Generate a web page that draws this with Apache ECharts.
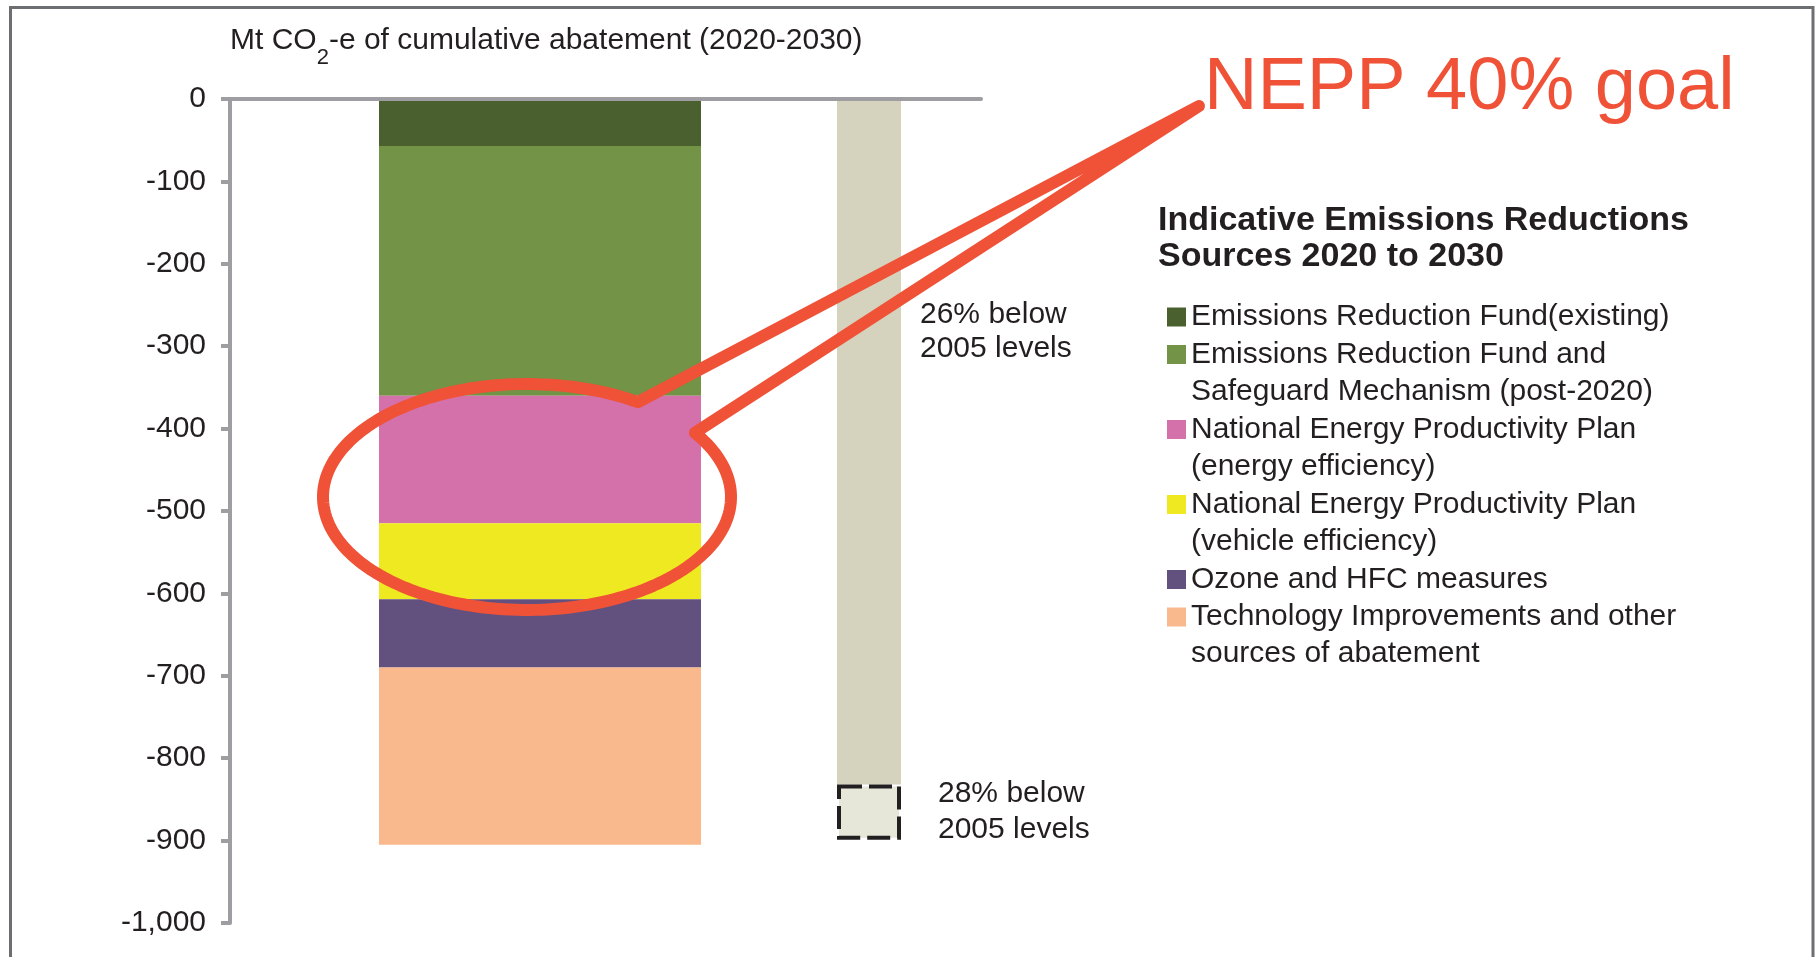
<!DOCTYPE html>
<html>
<head>
<meta charset="utf-8">
<script src="https://cdn.jsdelivr.net/npm/echarts@6/dist/echarts.min.js"></script>
<style>
html,body{margin:0;padding:0;background:#ffffff;}
#chart{width:1817px;height:957px;}
</style>
</head>
<body>
<div id="chart"></div>
<script>
// ---------------- data ----------------
const sourceNames = [
  'Emissions Reduction Fund(existing)',
  'Emissions Reduction Fund and\nSafeguard Mechanism (post-2020)',
  'National Energy Productivity Plan\n(energy efficiency)',
  'National Energy Productivity Plan\n(vehicle efficiency)',
  'Ozone and HFC measures',
  'Technology Improvements and other\nsources of abatement'
];
const sourceValues = [-57, -303, -155, -92, -83, -215];
const sourceCategory = ['Sources'];
const targetCategory = ['Target'];
const targetNames = ['26% below\n2005 levels', '28% below\n2005 levels'];
const targetValues = [-832, -67];
const yMin = -1000;
const yMax = 0;
const yStep = 100;
const axisTitle = '{m|Mt CO}{s|2}{m|-e of cumulative abatement (2020-2030)}';
const legendTitle = 'Indicative Emissions Reductions\nSources 2020 to 2030';
const calloutText = 'NEPP 40% goal';

// ---------------- styles ----------------
const FONT = '"Liberation Sans", Arial, Helvetica, sans-serif';
const TXT = '#231f20';
const AXIS = '#9e9ea2';
const RED = '#ef5237';
const sourceColors = ['#4a602f', '#739346', '#d470aa', '#eee921', '#62517f', '#f9b98c'];
const targetColors = ['#d5d2bd', '#e6e6d9'];

const chart = echarts.init(document.getElementById('chart'), null, {renderer: 'canvas'});

// legends: one per item so the swatch sits on the first text line
const LINE = 37.5;
const LH = 37;
let lineCursor = 317;
const legends = sourceNames.map(function (n) {
  const lines = n.split('\n').length;
  const c = lineCursor;
  lineCursor += lines * LINE;
  const blank = lines - 1;              // blank lines added on top so line 1 is centred on the swatch
  const total = lines + blank;
  const top = c - (total * LH) / 2;
  return {
    data: [n],
    orient: 'vertical',
    left: 1167,
    top: top,
    padding: 0,
    itemGap: 0,
    itemWidth: 19,
    itemHeight: 19,
    icon: 'rect',
    selectedMode: false,
    formatter: function (name) {
      let pre = '';
      for (let k = 0; k < blank; k++) pre += ' \n';
      return pre + name;
    },
    textStyle: {
      fontFamily: FONT,
      fontSize: 30,
      lineHeight: LH,
      color: TXT
    }
  };
});

// callout ellipse with wedge
const E = {cx: 527, cy: 497, rx: 204, ry: 113};
const pA = [697, 432], pB = [638, 402], tip = [1199, 106];
const thA = Math.atan2((pA[1] - E.cy) / E.ry, (pA[0] - E.cx) / E.rx);
const thB = Math.atan2((pB[1] - E.cy) / E.ry, (pB[0] - E.cx) / E.rx) + Math.PI * 2;
const ringPts = [];
const N = 180;
for (let i = 0; i <= N; i++) {
  const t = thA + (thB - thA) * i / N;
  ringPts.push([E.cx + E.rx * Math.cos(t), E.cy + E.ry * Math.sin(t)]);
}
ringPts.push(tip);

const series = [];
sourceNames.forEach(function (n, i) {
  series.push({
    type: 'bar',
    name: n,
    xAxisIndex: 1,
    yAxisIndex: 1,
    stack: 'sources',
    barWidth: '100%',
    data: [sourceValues[i]],
    itemStyle: {color: sourceColors[i]},
    emphasis: {disabled: true},
    z: 2
  });
});
series.push({
  type: 'bar',
  name: targetNames[0],
  xAxisIndex: 2,
  yAxisIndex: 2,
  stack: 'target',
  barWidth: '100%',
  data: [targetValues[0]],
  itemStyle: {color: targetColors[0]},
  emphasis: {disabled: true},
  label: {
    show: true,
    formatter: targetNames[0],
    position: ['100%', '34%'],
    offset: [19, 0],
    align: 'left',
    verticalAlign: 'middle',
    fontFamily: FONT,
    fontSize: 30,
    lineHeight: 34,
    color: TXT
  },
  z: 2
});
series.push({
  type: 'bar',
  name: targetNames[1],
  xAxisIndex: 2,
  yAxisIndex: 2,
  stack: 'target',
  barWidth: '100%',
  data: [targetValues[1]],
  itemStyle: {color: targetColors[1], borderColor: TXT, borderWidth: 4, borderType: [23, 7]},
  emphasis: {disabled: true},
  label: {
    show: true,
    formatter: targetNames[1],
    position: 'right',
    distance: 37,
    align: 'left',
    verticalAlign: 'middle',
    fontFamily: FONT,
    fontSize: 30,
    lineHeight: 36,
    color: TXT
  },
  z: 2
});

const hiddenY = function (gi) {
  return {gridIndex: gi, type: 'value', min: yMin, max: yMax, interval: yStep, show: false};
};

const option = {
  animation: false,
  backgroundColor: '#ffffff',
  title: {
    text: legendTitle,
    left: 1158,
    top: 202,
    padding: 0,
    textStyle: {fontFamily: FONT, fontSize: 34, fontWeight: 'bold', lineHeight: 36.5, color: TXT}
  },
  legend: legends,
  grid: [
    {left: 230, top: 99, width: 751, height: 824},
    {left: 379, top: 99, width: 322, height: 824},
    {left: 837, top: 99, width: 64, height: 824}
  ],
  xAxis: [
    {gridIndex: 0, type: 'category', data: [''], position: 'top',
      axisLine: {show: true, lineStyle: {color: AXIS, width: 4}},
      axisTick: {show: false}, axisLabel: {show: false}, splitLine: {show: false}, z: 5},
    {gridIndex: 1, type: 'category', data: sourceCategory, show: false},
    {gridIndex: 2, type: 'category', data: targetCategory, show: false}
  ],
  yAxis: [
    {gridIndex: 0, type: 'value', min: yMin, max: yMax, interval: yStep,
      axisLine: {show: true, lineStyle: {color: AXIS, width: 4}},
      axisTick: {show: true, inside: false, length: 9, lineStyle: {color: AXIS, width: 4}},
      axisLabel: {margin: 24, fontFamily: FONT, fontSize: 30, color: TXT,
        formatter: function (v) { return v.toLocaleString('en-US'); }},
      splitLine: {show: false},
      name: axisTitle,
      nameLocation: 'end',
      nameGap: 58,
      nameTextStyle: {
        align: 'left', verticalAlign: 'middle', fontFamily: FONT, fontSize: 30, color: TXT,
        rich: {
          m: {fontFamily: FONT, fontSize: 30, lineHeight: 32, color: TXT, verticalAlign: 'middle'},
          s: {fontFamily: FONT, fontSize: 22, lineHeight: 22, color: TXT, verticalAlign: 'middle', padding: [34, 0, 0, 0]}
        }
      },
      z: 5
    },
    hiddenY(1),
    hiddenY(2)
  ],
  series: series,
  graphic: [
    {type: 'rect', z: 50, silent: true,
      shape: {x: 10.5, y: 7.5, width: 1802.5, height: 1000},
      style: {fill: 'none', stroke: '#6d6e71', lineWidth: 3}},
    {type: 'polygon', z: 100, silent: true,
      shape: {points: ringPts},
      style: {fill: 'none', stroke: RED, lineWidth: 12, lineJoin: 'round', lineCap: 'round'}},
    {type: 'text', z: 100, silent: true, x: 1204, y: 89,
      style: {text: calloutText, fill: RED, font: '74px ' + FONT, textAlign: 'left', textVerticalAlign: 'middle', verticalAlign: 'middle'}}
  ]
};

chart.setOption(option);
</script>
</body>
</html>
